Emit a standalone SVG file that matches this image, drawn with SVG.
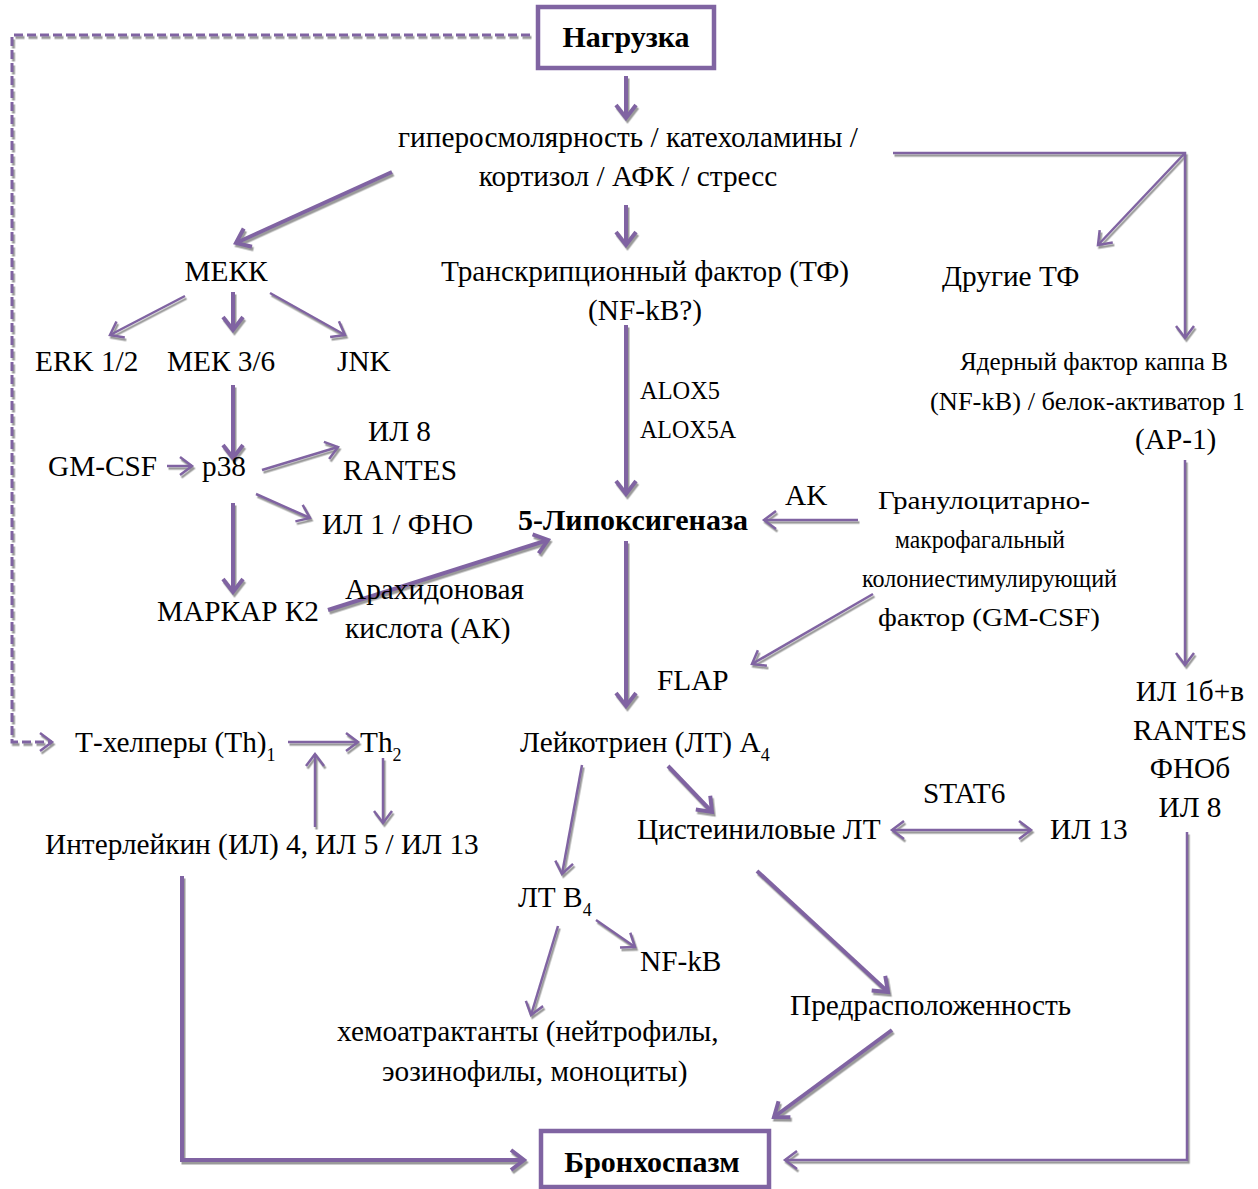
<svg xmlns="http://www.w3.org/2000/svg" width="1258" height="1189" viewBox="0 0 1258 1189">
<defs>
<style>
text{font-family:"Liberation Serif","Times New Roman",serif;font-size:29.3px;fill:#000}
.b{font-weight:bold;font-size:30px}
.sub{font-size:18px}
.n{font-size:26px}
.c line,.c path,.c polyline{fill:none;stroke:#8064A2;stroke-linecap:butt;stroke-linejoin:miter}
.c .k{stroke-width:4}
.c .t{stroke-width:2.5}
.c .d{stroke-width:3;stroke-dasharray:9 4}
.box{fill:#fff;stroke:#8064A2;stroke-width:4.5}
</style>
<filter id="sh" filterUnits="userSpaceOnUse" x="0" y="0" width="1258" height="1189">
<feDropShadow dx="1.5" dy="2.5" stdDeviation="0" flood-color="#9a9a9a" flood-opacity="1"/>
</filter>
<marker id="ak" markerUnits="userSpaceOnUse" viewBox="-16 -12 20 24" markerWidth="20" markerHeight="24" refX="0" refY="0" orient="auto">
<path d="M-13,-10 L0,0 L-13,10" fill="none" stroke="#8064A2" stroke-width="4"/>
</marker>
<marker id="at" markerUnits="userSpaceOnUse" viewBox="-16 -12 20 24" markerWidth="20" markerHeight="24" refX="0" refY="0" orient="auto">
<path d="M-12,-9 L0,0 L-12,9" fill="none" stroke="#8064A2" stroke-width="2.5"/>
</marker>
<marker id="as" markerUnits="userSpaceOnUse" viewBox="-16 -12 20 24" markerWidth="20" markerHeight="24" refX="0" refY="0" orient="auto-start-reverse">
<path d="M-12,-9 L0,0 L-12,9" fill="none" stroke="#8064A2" stroke-width="2.5"/>
</marker>
</defs>
<rect width="1258" height="1189" fill="#fff"/>

<g id="connectors" class="c" filter="url(#sh)">
<polyline class="d" points="530,35 12,35 12,742 52,742" marker-end="url(#at)"/>
<line class="k" x1="626" y1="76" x2="626" y2="118" marker-end="url(#ak)"/>
<line class="k" x1="626" y1="205" x2="626" y2="245" marker-end="url(#ak)"/>
<line class="k" x1="392" y1="172" x2="236" y2="243" marker-end="url(#ak)"/>
<polyline class="t" points="893,153 1185,153 1185,338" marker-end="url(#at)"/>
<line class="t" x1="1185" y1="153" x2="1098" y2="245" marker-end="url(#at)"/>
<line class="t" x1="185" y1="296" x2="110" y2="335" marker-end="url(#at)"/>
<line class="k" x1="233" y1="292" x2="233" y2="330" marker-end="url(#ak)"/>
<line class="t" x1="270" y1="293" x2="345" y2="335" marker-end="url(#at)"/>
<line class="k" x1="233" y1="385" x2="233" y2="458" marker-end="url(#ak)"/>
<line class="t" x1="167" y1="466" x2="192" y2="466" marker-end="url(#at)"/>
<line class="t" x1="262" y1="470" x2="338" y2="447" marker-end="url(#at)"/>
<line class="t" x1="256" y1="494" x2="310" y2="518" marker-end="url(#at)"/>
<line class="k" x1="233" y1="503" x2="233" y2="592" marker-end="url(#ak)"/>
<line class="k" x1="328" y1="610" x2="548" y2="540" marker-end="url(#ak)"/>
<line class="k" x1="626" y1="325" x2="626" y2="494" marker-end="url(#ak)"/>
<line class="t" x1="858" y1="520" x2="764" y2="520" marker-end="url(#at)"/>
<line class="t" x1="873" y1="594" x2="752" y2="664" marker-end="url(#at)"/>
<line class="k" x1="626" y1="541" x2="626" y2="706" marker-end="url(#ak)"/>
<line class="t" x1="1185" y1="460" x2="1185" y2="665" marker-end="url(#at)"/>
<line class="t" x1="288" y1="742" x2="358" y2="742" marker-end="url(#at)"/>
<line class="t" x1="315" y1="827" x2="315" y2="754" marker-end="url(#at)"/>
<line class="t" x1="383" y1="758" x2="383" y2="823" marker-end="url(#at)"/>
<line class="t" x1="582" y1="765" x2="562" y2="874" marker-end="url(#at)"/>
<line class="k" x1="668" y1="766" x2="712" y2="812" marker-end="url(#ak)"/>
<line class="t" x1="892" y1="830" x2="1031" y2="830" marker-start="url(#as)" marker-end="url(#as)"/>
<line class="t" x1="596" y1="920" x2="635" y2="947" marker-end="url(#at)"/>
<line class="t" x1="558" y1="926" x2="531" y2="1015" marker-end="url(#at)"/>
<line class="k" x1="757" y1="871" x2="888" y2="992" marker-end="url(#ak)"/>
<line class="k" x1="892" y1="1030" x2="774" y2="1117" marker-end="url(#ak)"/>
<polyline class="t" points="1187,832 1187,1160 785,1160" marker-end="url(#at)"/>
<polyline class="k" points="182,876 182,1160 524,1160" marker-end="url(#ak)"/>
</g>

<g id="n-load"><rect class="box" x="538" y="7" width="176" height="61"/><text class="b" x="626" y="47" text-anchor="middle">Нагрузка</text></g>
<g id="n-stress">
<text x="628" y="147" text-anchor="middle">гиперосмолярность / катехоламины /</text>
<text x="628" y="186" text-anchor="middle">кортизол / АФК / стресс</text>
</g>
<g id="n-mekk"><text x="226" y="281" text-anchor="middle">МЕКК</text></g>
<g id="n-tf">
<text x="645" y="281" text-anchor="middle">Транскрипционный фактор (ТФ)</text>
<text x="645" y="320" text-anchor="middle">(NF-kB?)</text>
</g>
<g id="n-othertf"><text x="942" y="286">Другие ТФ</text></g>
<g id="n-erk"><text x="35" y="371">ERK 1/2</text></g>
<g id="n-mek"><text x="167" y="371">МЕК 3/6</text></g>
<g id="n-jnk"><text x="337" y="371">JNK</text></g>
<g id="n-nfkb">
<text class="n" x="960" y="370" textLength="268" lengthAdjust="spacingAndGlyphs">Ядерный фактор каппа В</text>
<text class="n" x="930" y="410" textLength="315" lengthAdjust="spacingAndGlyphs">(NF-kB) / белок-активатор 1</text>
<text x="1135" y="449">(AP-1)</text>
</g>
<g id="l-alox"><text class="n" x="640" y="399" textLength="80" lengthAdjust="spacingAndGlyphs">ALOX5</text><text class="n" x="640" y="438" textLength="96" lengthAdjust="spacingAndGlyphs">ALOX5A</text></g>
<g id="n-il8"><text x="368" y="441">ИЛ 8</text><text x="343" y="480">RANTES</text></g>
<g id="n-gmcsf"><text x="48" y="476">GM-CSF</text></g>
<g id="n-p38"><text x="202" y="476">p38</text></g>
<g id="n-il1"><text x="322" y="534">ИЛ 1 / ФНО</text></g>
<g id="n-5lox"><text class="b" x="518" y="530">5-Липоксигеназа</text></g>
<g id="l-ak"><text x="785" y="505">AK</text></g>
<g id="n-gmcsf2">
<text class="n" x="878" y="509" textLength="212" lengthAdjust="spacingAndGlyphs">Гранулоцитарно-</text>
<text class="n" x="895" y="548" textLength="170" lengthAdjust="spacingAndGlyphs">макрофагальный</text>
<text class="n" x="862" y="587" textLength="255" lengthAdjust="spacingAndGlyphs">колониестимулирующий</text>
<text class="n" x="878" y="626" textLength="222" lengthAdjust="spacingAndGlyphs">фактор (GM-CSF)</text>
</g>
<g id="n-mapkap"><text x="157" y="621">МАРКАР К2</text></g>
<g id="l-aa"><text x="345" y="599">Арахидоновая</text><text x="345" y="638">кислота (АК)</text></g>
<g id="n-flap"><text x="657" y="690">FLAP</text></g>
<g id="n-il1b">
<text x="1190" y="701" text-anchor="middle">ИЛ 1б+в</text>
<text x="1190" y="740" text-anchor="middle">RANTES</text>
<text x="1190" y="778" text-anchor="middle">ФНОб</text>
<text x="1190" y="817" text-anchor="middle">ИЛ 8</text>
</g>
<g id="n-th1"><text x="75" y="752">Т-хелперы (Th)<tspan class="sub" dy="9">1</tspan></text></g>
<g id="n-th2"><text x="360" y="752">Th<tspan class="sub" dy="9">2</tspan></text></g>
<g id="n-lta4"><text x="520" y="752">Лейкотриен (ЛТ) A<tspan class="sub" dy="9">4</tspan></text></g>
<g id="l-stat6"><text x="923" y="803">STAT6</text></g>
<g id="n-cyslt"><text x="637" y="839">Цистеиниловые ЛТ</text></g>
<g id="n-il13"><text x="1050" y="839">ИЛ 13</text></g>
<g id="n-il4"><text x="45" y="854">Интерлейкин (ИЛ) 4, ИЛ 5 / ИЛ 13</text></g>
<g id="n-ltb4"><text x="518" y="907">ЛТ B<tspan class="sub" dy="9">4</tspan></text></g>
<g id="n-nfkb2"><text x="640" y="971">NF-kB</text></g>
<g id="n-predisp"><text x="790" y="1015">Предрасположенность</text></g>
<g id="n-chemo">
<text x="337" y="1041">хемоатрактанты (нейтрофилы,</text>
<text x="382" y="1081">эозинофилы, моноциты)</text>
</g>
<g id="n-broncho"><rect class="box" x="541" y="1131" width="228" height="56"/><text class="b" x="652" y="1172" text-anchor="middle">Бронхоспазм</text></g>
</svg>
